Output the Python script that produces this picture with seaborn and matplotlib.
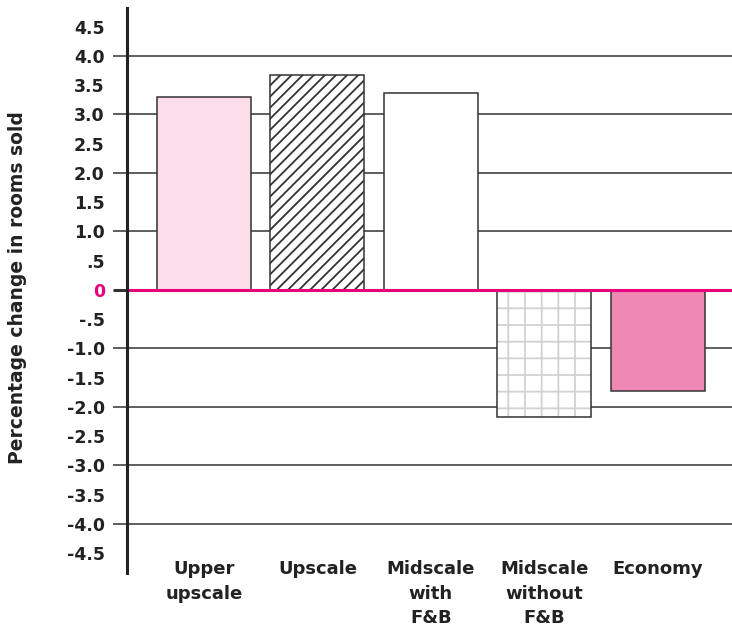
import matplotlib
matplotlib.use("Agg")
import matplotlib.pyplot as plt
from matplotlib.patches import Rectangle
import seaborn as sns

# Year-over-year change in rooms sold, by chain scale
categories = ["Upper\nupscale", "Upscale", "Midscale\nwith\nF&B",
              "Midscale\nwithout\nF&B", "Economy"]
changes = [3.30, 3.67, 3.36, -2.18, -1.73]

tick_values = [-4.5, -4.0, -3.5, -3.0, -2.5, -2.0, -1.5, -1.0, -0.5, 0.0,
               0.5, 1.0, 1.5, 2.0, 2.5, 3.0, 3.5, 4.0, 4.5]
tick_labels = ["-4.5", "-4.0", "-3.5", "-3.0", "-2.5", "-2.0", "-1.5", "-1.0",
               "-.5", "0", ".5", "1.0", "1.5", "2.0", "2.5", "3.0", "3.5",
               "4.0", "4.5"]
grid_values = [-4, -3, -2, -1, 0, 1, 2, 3, 4]

sns.set_theme(style="white")
plt.rcParams["font.family"] = ["DejaVu Sans"]
plt.rcParams["hatch.linewidth"] = 1.3

DARK = "#333333"
TEXT = "#222222"
MAGENTA = "#e6007e"

fig = plt.figure(figsize=(7.32, 6.31), dpi=100)
ax = fig.add_axes([127 / 732, 1 - 573 / 631, 605 / 732, 565 / 631])

sns.barplot(x=categories, y=changes, width=0.83, ax=ax, color="white",
            saturation=1, edgecolor=DARK, linewidth=1.1, zorder=2)

styles = [
    dict(facecolor="#fbdde9", hatch=None),
    dict(facecolor="white", hatch="///"),
    dict(facecolor="white", hatch=None),
    dict(facecolor="white", hatch="+"),
    dict(facecolor="#f088b4", hatch=None),
]
bars = list(ax.patches[:len(categories)])
for patch, st in zip(bars, styles):
    patch.set_facecolor(st["facecolor"])
    if st["hatch"]:
        patch.set_hatch(st["hatch"])
for patch in bars:
    if patch.get_hatch() == "+":
        # light grid fill with a dark outline on top
        patch.set_edgecolor("#d2d2d2")
        patch.set_linewidth(0)
        ax.add_patch(Rectangle(patch.get_xy(), patch.get_width(), patch.get_height(),
                               fill=False, edgecolor=DARK, linewidth=1.1,
                               zorder=patch.get_zorder() + 0.1))

ax.set_xlim(-0.679, 4.656)
ax.set_ylim(-4.84, 4.82)

# labelled ticks every half unit, tick marks and grid lines every unit
ax.yaxis.remove_overlapping_locs = False
ax.set_yticks(tick_values)
ax.set_yticklabels(tick_labels)
ax.set_yticks(grid_values, minor=True)
ax.tick_params(axis="y", which="major", length=0, pad=16, labelsize=12.5,
               labelcolor=TEXT)
ax.tick_params(axis="y", which="minor", left=True, length=10, width=1.1,
               color=DARK)
for lbl in ax.get_yticklabels():
    lbl.set_fontweight("bold")
    if lbl.get_text() == "0":
        lbl.set_color(MAGENTA)
for val, tick in zip(grid_values, ax.yaxis.get_minor_ticks()):
    if val == 0:
        tick.tick1line.set_color(MAGENTA)
        tick.tick1line.set_markeredgewidth(2.2)

ax.yaxis.grid(True, which="minor", color=DARK, linewidth=1.1)
ax.yaxis.grid(False, which="major")
ax.xaxis.grid(False)
ax.set_axisbelow(True)

ax.axhline(0, color=MAGENTA, linewidth=2.2, zorder=2.4)

ax.tick_params(axis="x", length=0, pad=-9, labelsize=13, labelcolor=TEXT)
for lbl in ax.get_xticklabels():
    lbl.set_fontweight("bold")
    lbl.set_linespacing(1.45)

for side in ["top", "right", "bottom"]:
    ax.spines[side].set_visible(False)
ax.spines["left"].set_color(TEXT)
ax.spines["left"].set_linewidth(2.2)
ax.spines["left"].set_zorder(2.5)

ax.set_xlabel("")
ax.set_ylabel("")
fig.text(18 / 732, 1 - 288 / 631, "Percentage change in rooms sold",
         rotation=90, ha="center", va="center", fontsize=13.5,
         fontweight="bold", color=TEXT)

fig.savefig("out.png", dpi=100)
